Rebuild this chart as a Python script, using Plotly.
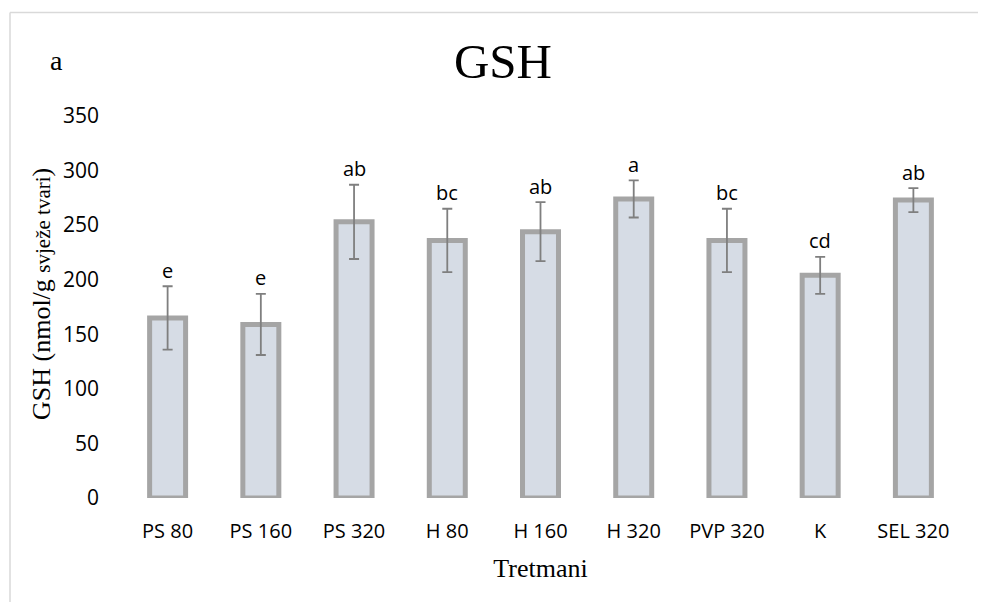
import plotly.graph_objects as go

categories = ["PS 80", "PS 160", "PS 320", "H 80", "H 160", "H 320", "PVP 320", "K", "SEL 320"]
means = [165, 159, 253, 236, 244, 274, 236, 204, 273]
errors = [29, 28, 34, 29, 27, 17, 29, 17, 11]
letters = ["e", "e", "ab", "bc", "ab", "a", "bc", "cd", "ab"]
y_ticks = [0, 50, 100, 150, 200, 250, 300, 350]

W, H = 986, 602
ml, mr, mt, mb = 113, 34, 108, 112
pw = W - ml - mr
ph = H - mt - mb

fig = go.Figure()
fig.add_trace(go.Bar(
    x=categories, y=means, width=0.386,
    marker=dict(color="#D6DCE5", line=dict(color="#A5A5A5", width=5)),
    error_y=dict(type="data", array=errors, visible=True, color="#7F7F7F", thickness=1.8, width=5),
    showlegend=False, hoverinfo="skip",
))

sans = "Open Sans, Calibri, sans-serif"
serif = "Liberation Serif, Times New Roman, serif"

for c, m, e, l in zip(categories, means, errors, letters):
    fig.add_annotation(x=c, y=m + e, text=l, showarrow=False, xanchor="center", yanchor="middle",
                       yshift=16, font=dict(family=sans, size=20, color="#000000"))

# panel letter
fig.add_annotation(xref="paper", yref="paper", x=(48 - ml) / pw, y=(H - mb - 53) / ph, text="a",
                   showarrow=False, xanchor="center", yanchor="middle",
                   font=dict(family=serif, size=28, color="#000000"))

# y-axis title
fig.add_annotation(xref="paper", yref="paper", x=(33 - ml) / pw, y=(H - mb - 286) / ph,
                   text='GSH (nmol/g <span style="font-size:21px">svježe tvari</span>)',
                   textangle=-90, showarrow=False, xanchor="center", yanchor="middle",
                   font=dict(family=serif, size=26, color="#000000"))

# chart area border (top and left edges visible)
x_left = (2 - ml) / pw
y_top = (H - mb - 4.5) / ph
fig.add_shape(type="line", xref="paper", yref="paper", x0=x_left, x1=(W + 5 - ml) / pw, y0=y_top, y1=y_top,
              line=dict(color="#D9D9D9", width=1.5))
fig.add_shape(type="line", xref="paper", yref="paper", x0=x_left, x1=x_left, y0=y_top, y1=(-mb - 5) / ph,
              line=dict(color="#D9D9D9", width=1.5))

fig.update_layout(
    width=W, height=H, autosize=False,
    margin=dict(l=ml, r=mr, t=mt, b=mb, pad=0),
    paper_bgcolor="white", plot_bgcolor="white",
    title=dict(text="GSH", x=495 / W, xref="container", xanchor="center",
               y=1 - 53 / H, yref="container", yanchor="middle",
               font=dict(family=serif, size=49, color="#000000")),
    bargap=0.6,
)
fig.update_xaxes(
    showgrid=False, showline=False, zeroline=False, ticks="",
    tickfont=dict(family=sans, size=20, color="#000000"),
    ticklabelstandoff=19,
    title=dict(text="Tretmani", font=dict(family=serif, size=26, color="#000000"), standoff=15),
)
fig.update_yaxes(
    range=[0, 350], tickvals=y_ticks, showgrid=False, showline=False, zeroline=False, ticks="",
    tickfont=dict(family=sans, size=21, color="#000000"),
    ticklabelstandoff=21,
)

fig.write_html("out.html")
